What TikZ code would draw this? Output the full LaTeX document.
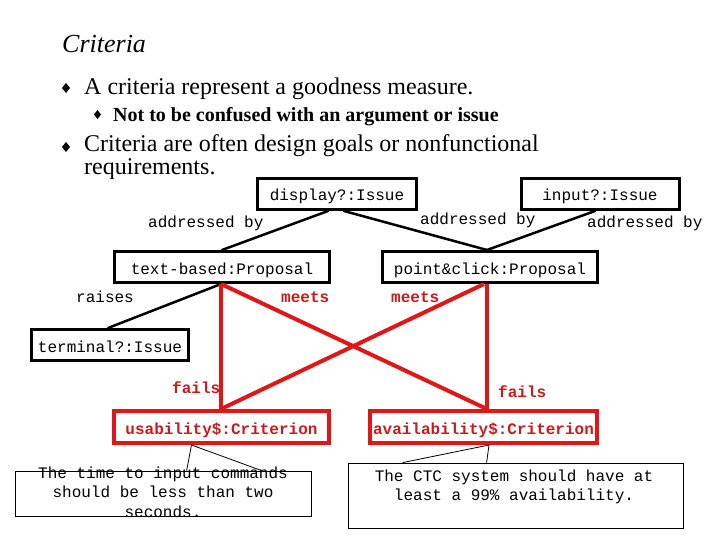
\documentclass[tikz,border=0pt]{standalone}
\usepackage{fontspec}
\setmainfont{Liberation Serif}
\setmonofont{Liberation Mono}
\usetikzlibrary{calc}
\definecolor{argred}{RGB}{225,22,22}
\definecolor{lblred}{RGB}{200,28,28}
\begin{document}
\begin{tikzpicture}[x=1pt,y=-1pt,
  mono/.style={font=\fontsize{16}{16}\selectfont\ttfamily},
  box/.style={draw, line width=3pt, minimum height=31pt, inner sep=0pt, mono, text height=14pt, text depth=0pt},
  critbox/.style={box, draw=argred, line width=4pt, text=lblred, font=\fontsize{16}{16}\selectfont\ttfamily\bfseries},
  link/.style={line width=2.5pt, line cap=round},
  redlink/.style={line width=4pt, draw=argred},
  lbl/.style={anchor=base west, inner sep=0pt, mono},
  redlbl/.style={lbl, text=lblred, font=\fontsize{16}{16}\selectfont\ttfamily\bfseries},
  note/.style={draw, line width=0.8pt, inner sep=0pt},
  notetext/.style={inner sep=0pt, align=center, anchor=north, font=\fontsize{16}{19.5}\selectfont\ttfamily},
  slide/.style={anchor=base west, inner sep=0pt, font=\fontsize{24}{24}\selectfont}]
\useasboundingbox[fill=white] (0,0) rectangle (720,540);

% slide text
\node[anchor=base west, inner sep=0pt, font=\fontsize{26}{26}\selectfont\itshape] (title) at (62,53) {Criteria};
\fill (66,83) -- (70,88) -- (66,93) -- (62,88) -- cycle;
\node[slide] (b1) at (84,95) {A criteria represent a goodness measure.};
\fill (97.5,110) -- (101,114.5) -- (97.5,119) -- (94,114.5) -- cycle;
\node[slide, font=\fontsize{20}{20}\selectfont\bfseries] (b1a) at (113,122) {Not to be confused with an argument or issue};
\fill (66,142) -- (70,147) -- (66,152) -- (62,147) -- cycle;
\node[slide] (b2) at (84,152) {Criteria are often design goals or nonfunctional};
\node[slide] (b2b) at (84,175) {requirements.};

% boxes
\node[box, minimum width=159pt] (disp) at (337,194) {display?:Issue};
\node[box, minimum width=158pt] (inp) at (600,194) {input?:Issue};
\node[box, minimum width=215pt] (tb) at (222,267) {text-based:Proposal};
\node[box, minimum width=215pt] (pc) at (490,267) {point\&click:Proposal};
\node[box, minimum width=157pt] (term) at (110,345) {terminal?:Issue};
\node[critbox, minimum width=215pt, minimum height=32pt] (usab) at (221.5,427) {usability\$:Criterion};
\node[critbox, minimum width=227pt, minimum height=32pt] (avail) at (483.5,427) {availability\$:Criterion};

% black links
\draw[link] ($(disp.south)+(-9,0)$) -- (tb.north);
\draw[link] ($(disp.south)+(7,0)$) -- ($(pc.north)+(-3,0)$);
\draw[link] ($(inp.south)+(-5,0)$) -- ($(pc.north)+(-3,0)$);
\draw[link] ($(tb.south)+(-1,0)$) -- ($(term.north)+(-2,0)$);

% red links
\draw[redlink] ($(tb.south)+(-1,0)$) -- ($(usab.north)+(-0.5,0)$);
\draw[redlink] ($(tb.south)+(-1,0)$) -- ($(avail.north)+(3.5,0)$);
\draw[redlink] ($(pc.south)+(-6,0)$) -- ($(usab.north)+(-0.5,0)$);
\draw[redlink] ($(pc.south)+(-3,0)$) -- ($(avail.north)+(3.5,0)$);

% labels
\node[lbl] (l1) at (148,228) {addressed by};
\node[lbl] (l2) at (420,225) {addressed by};
\node[lbl] (l3) at (587,228) {addressed by};
\node[lbl] (l4) at (76,302) {raises};
\node[redlbl] (l5) at (281,302) {meets};
\node[redlbl] (l6) at (391,302) {meets};
\node[redlbl] (l7) at (172,393) {fails};
\node[redlbl] (l8) at (498,397) {fails};

% notes
\node[note, minimum width=296pt, minimum height=45pt] (nl) at (163,493.5) {};
\node[note, minimum width=335pt, minimum height=65pt] (nr) at (515.5,495.5) {};
\node[notetext] (nlt) at (163,466.5) {The time to input commands\\should be less than two\\seconds.};
\node[notetext] (nrt) at (514,469.5) {The CTC system should have at\\least a 99\% availability.};
\draw[line width=0.8pt] ($(nl.north west)+(172,0)$) -- ($(usab.south)+(-30,0)$) -- ($(nl.north west)+(247,0)$);
\draw[line width=0.8pt] ($(nr.north west)+(55,0)$) -- ($(avail.south)+(5.5,0)$) -- ($(nr.north west)+(139,0)$);
\end{tikzpicture}
\end{document}
